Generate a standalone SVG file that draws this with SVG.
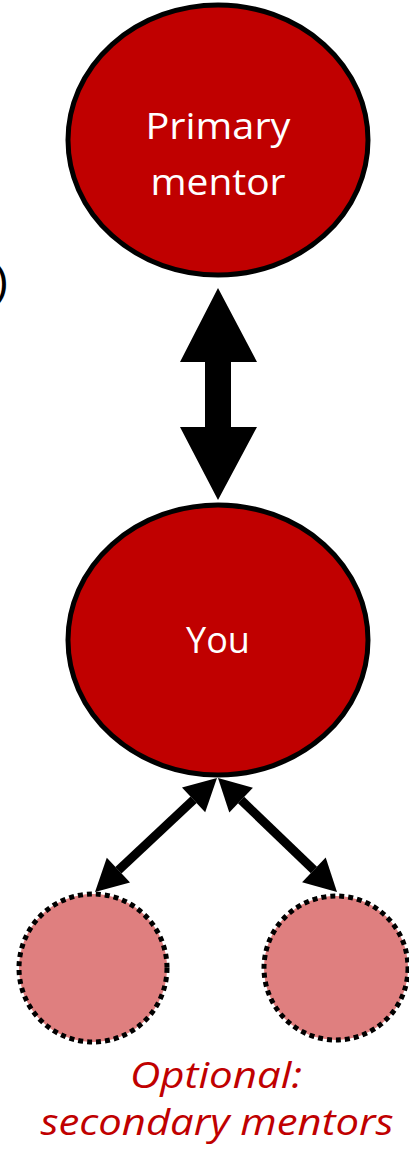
<svg xmlns="http://www.w3.org/2000/svg" width="409" height="1150" viewBox="0 0 409 1150">
<style>
.big{fill:#C00000;stroke:#000;stroke-width:5}
.small{fill:#DF7F7F;stroke:#000;stroke-width:5;stroke-dasharray:5 4}
.lbl{font-family:"Open Sans","Liberation Sans",sans-serif;font-size:37px;fill:#fff;text-anchor:middle}
.cap{font-family:"Open Sans","Liberation Sans",sans-serif;font-size:37px;font-style:italic;fill:#C00000;text-anchor:middle}
.shaft{stroke:#000;stroke-width:9}
</style>
<text x="-6" y="296" font-family="Liberation Sans,sans-serif" font-size="44" fill="#000">)</text>
<g id="connectors">
<path d="M218,288 L257,362 L231,362 L231,427 L257,427 L218,500 L180,427 L205,427 L205,362 L180,362 Z" fill="#000"/>
<line class="shaft" x1="193.6" y1="799.8" x2="118.4" y2="870.2"/>
<polygon points="217,778 205.2,812.2 182,787.4" fill="#000"/>
<polygon points="95,892 130,882.6 106.8,857.8" fill="#000"/>
<line class="shaft" x1="241.1" y1="800.1" x2="313.9" y2="869.9"/>
<polygon points="218,778 229.3,812.4 252.9,787.8" fill="#000"/>
<polygon points="337,892 302.1,882.2 325.7,857.6" fill="#000"/>
</g>
<g id="primary">
<ellipse class="big" cx="218" cy="140" rx="150" ry="135"/>
<text class="lbl" x="218" y="139" textLength="145" lengthAdjust="spacingAndGlyphs">Primary</text>
<text class="lbl" x="218" y="195" textLength="135" lengthAdjust="spacingAndGlyphs">mentor</text>
</g>
<g id="you">
<ellipse class="big" cx="218" cy="640" rx="150" ry="135"/>
<text class="lbl" x="218" y="653" textLength="64" lengthAdjust="spacingAndGlyphs">You</text>
</g>
<g id="secondary1">
<circle class="small" cx="93" cy="968" r="74"/>
</g>
<g id="secondary2">
<circle class="small" cx="336" cy="968" r="72"/>
</g>
<g id="caption">
<text class="cap" x="216" y="1088" textLength="172" lengthAdjust="spacingAndGlyphs">Optional:</text>
<text class="cap" x="217" y="1135" textLength="353" lengthAdjust="spacingAndGlyphs">secondary mentors</text>
</g>
</svg>
